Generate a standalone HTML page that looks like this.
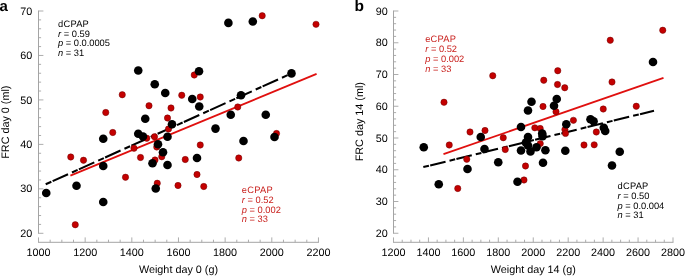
<!DOCTYPE html>
<html lang="en"><head><meta charset="utf-8"><title>FRC vs weight</title>
<style>html,body{margin:0;padding:0;background:#fff}body{width:685px;height:276px;overflow:hidden}svg{will-change:transform}svg text{white-space:pre;text-rendering:geometricPrecision}</style>
</head><body>
<svg width="685" height="276" viewBox="0 0 685 276" style="display:block;font-family:'Liberation Sans', Arial, Helvetica, sans-serif">
<rect width="685" height="276" fill="#fff"/>
<path d="M38.5 10.55V233.74999999999997M38.05 242.3H318.91" fill="none" stroke="#a4a4a4" stroke-width="1"/><path d="M38.50 242.3v-4.9M85.16 242.3v-4.9M131.82 242.3v-4.9M178.48 242.3v-4.9M225.14 242.3v-4.9M271.80 242.3v-4.9M318.46 242.3v-4.9M50.16 242.3v-2.6M61.83 242.3v-2.6M73.50 242.3v-2.6M96.83 242.3v-2.6M108.49 242.3v-2.6M120.16 242.3v-2.6M143.49 242.3v-2.6M155.15 242.3v-2.6M166.81 242.3v-2.6M190.15 242.3v-2.6M201.81 242.3v-2.6M213.47 242.3v-2.6M236.81 242.3v-2.6M248.47 242.3v-2.6M260.13 242.3v-2.6M283.47 242.3v-2.6M295.13 242.3v-2.6M306.80 242.3v-2.6M38.5 233.30h4.9M38.5 188.84h4.9M38.5 144.38h4.9M38.5 99.92h4.9M38.5 55.46h4.9M38.5 11.00h4.9M38.5 224.41h2.6M38.5 215.52h2.6M38.5 206.62h2.6M38.5 197.73h2.6M38.5 179.95h2.6M38.5 171.06h2.6M38.5 162.16h2.6M38.5 153.27h2.6M38.5 135.49h2.6M38.5 126.60h2.6M38.5 117.70h2.6M38.5 108.81h2.6M38.5 91.03h2.6M38.5 82.14h2.6M38.5 73.24h2.6M38.5 64.35h2.6M38.5 46.57h2.6M38.5 37.68h2.6M38.5 28.78h2.6M38.5 19.89h2.6" fill="none" stroke="#a4a4a4" stroke-width="0.9"/>
<g font-size="10.8" fill="#000">
<text x="38.50" y="255.6" text-anchor="middle">1000</text>
<text x="85.16" y="255.6" text-anchor="middle">1200</text>
<text x="131.82" y="255.6" text-anchor="middle">1400</text>
<text x="178.48" y="255.6" text-anchor="middle">1600</text>
<text x="225.14" y="255.6" text-anchor="middle">1800</text>
<text x="271.80" y="255.6" text-anchor="middle">2000</text>
<text x="318.46" y="255.6" text-anchor="middle">2200</text>
<text x="32.3" y="236.90" text-anchor="end">20</text>
<text x="32.3" y="192.44" text-anchor="end">30</text>
<text x="32.3" y="147.98" text-anchor="end">40</text>
<text x="32.3" y="103.52" text-anchor="end">50</text>
<text x="32.3" y="59.06" text-anchor="end">60</text>
<text x="32.3" y="14.60" text-anchor="end">70</text>
<text x="178.48" y="272.6" text-anchor="middle">Weight day 0 (g)</text>
<text transform="translate(9.2 122.15) rotate(-90)" text-anchor="middle">FRC day 0 (ml)</text>
</g>
<text x="-0.5" y="10.9" font-size="15" font-weight="bold" fill="#000">a</text>
<path d="M393.5 10.55V233.7M393.05 242.3H673.4540000000001" fill="none" stroke="#a4a4a4" stroke-width="1"/><path d="M393.50 242.3v-4.9M428.44 242.3v-4.9M463.38 242.3v-4.9M498.31 242.3v-4.9M533.25 242.3v-4.9M568.19 242.3v-4.9M603.13 242.3v-4.9M638.07 242.3v-4.9M673.00 242.3v-4.9M402.23 242.3v-2.6M410.97 242.3v-2.6M419.70 242.3v-2.6M437.17 242.3v-2.6M445.91 242.3v-2.6M454.64 242.3v-2.6M472.11 242.3v-2.6M480.85 242.3v-2.6M489.58 242.3v-2.6M507.05 242.3v-2.6M515.78 242.3v-2.6M524.52 242.3v-2.6M541.99 242.3v-2.6M550.72 242.3v-2.6M559.46 242.3v-2.6M576.92 242.3v-2.6M585.66 242.3v-2.6M594.39 242.3v-2.6M611.86 242.3v-2.6M620.60 242.3v-2.6M629.33 242.3v-2.6M646.80 242.3v-2.6M655.54 242.3v-2.6M664.27 242.3v-2.6M393.5 233.25h4.9M393.5 201.50h4.9M393.5 169.75h4.9M393.5 138.00h4.9M393.5 106.25h4.9M393.5 74.50h4.9M393.5 42.75h4.9M393.5 11.00h4.9M393.5 226.90h2.6M393.5 220.55h2.6M393.5 214.20h2.6M393.5 207.85h2.6M393.5 195.15h2.6M393.5 188.80h2.6M393.5 182.45h2.6M393.5 176.10h2.6M393.5 163.40h2.6M393.5 157.05h2.6M393.5 150.70h2.6M393.5 144.35h2.6M393.5 131.65h2.6M393.5 125.30h2.6M393.5 118.95h2.6M393.5 112.60h2.6M393.5 99.90h2.6M393.5 93.55h2.6M393.5 87.20h2.6M393.5 80.85h2.6M393.5 68.15h2.6M393.5 61.80h2.6M393.5 55.45h2.6M393.5 49.10h2.6M393.5 36.40h2.6M393.5 30.05h2.6M393.5 23.70h2.6M393.5 17.35h2.6" fill="none" stroke="#a4a4a4" stroke-width="0.9"/>
<g font-size="10.8" fill="#000">
<text x="393.50" y="255.6" text-anchor="middle">1200</text>
<text x="428.44" y="255.6" text-anchor="middle">1400</text>
<text x="463.38" y="255.6" text-anchor="middle">1600</text>
<text x="498.31" y="255.6" text-anchor="middle">1800</text>
<text x="533.25" y="255.6" text-anchor="middle">2000</text>
<text x="568.19" y="255.6" text-anchor="middle">2200</text>
<text x="603.13" y="255.6" text-anchor="middle">2400</text>
<text x="638.07" y="255.6" text-anchor="middle">2600</text>
<text x="673.00" y="255.6" text-anchor="middle">2800</text>
<text x="387.7" y="236.85" text-anchor="end">20</text>
<text x="387.7" y="205.10" text-anchor="end">30</text>
<text x="387.7" y="173.35" text-anchor="end">40</text>
<text x="387.7" y="141.60" text-anchor="end">50</text>
<text x="387.7" y="109.85" text-anchor="end">60</text>
<text x="387.7" y="78.10" text-anchor="end">70</text>
<text x="387.7" y="46.35" text-anchor="end">80</text>
<text x="387.7" y="14.60" text-anchor="end">90</text>
<text x="533.25" y="272.6" text-anchor="middle">Weight day 14 (g)</text>
<text transform="translate(363.3 121.72) rotate(-90)" text-anchor="middle">FRC day 14 (ml)</text>
</g>
<text x="354.4" y="11.3" font-size="15.5" font-weight="bold" fill="#000">b</text>
<line x1="70.4" y1="175.7" x2="316.6" y2="73.9" stroke="#e0100f" stroke-width="1.8"/>
<line x1="45.7" y1="184.3" x2="291.5" y2="73.4" stroke="#000" stroke-width="2.05" stroke-dasharray="6.2 1.4 16.9 4.3"/>
<line x1="443.5" y1="154.2" x2="663.5" y2="77.8" stroke="#e0100f" stroke-width="1.8"/>
<line x1="423.3" y1="167.1" x2="654" y2="110.75" stroke="#000" stroke-width="2.05" stroke-dasharray="5.8 1.3 15.8 4.1"/>
<g fill="#c40000" stroke="#6e0000" stroke-width="0.5">
<circle cx="70.75" cy="157" r="3.15"/>
<circle cx="75.25" cy="224.75" r="3.15"/>
<circle cx="83.5" cy="160.25" r="3.15"/>
<circle cx="105.75" cy="112.5" r="3.15"/>
<circle cx="112.75" cy="132.5" r="3.15"/>
<circle cx="122.25" cy="94.75" r="3.15"/>
<circle cx="125.5" cy="177.25" r="3.15"/>
<circle cx="134" cy="148.25" r="3.15"/>
<circle cx="140.5" cy="157.5" r="3.15"/>
<circle cx="146.75" cy="138.25" r="3.15"/>
<circle cx="149" cy="105.75" r="3.15"/>
<circle cx="154.5" cy="136.75" r="3.15"/>
<circle cx="155" cy="160" r="3.15"/>
<circle cx="156.75" cy="147" r="3.15"/>
<circle cx="157.25" cy="183.25" r="3.15"/>
<circle cx="161.75" cy="156.75" r="3.15"/>
<circle cx="167.5" cy="118" r="3.15"/>
<circle cx="168.5" cy="129" r="3.15"/>
<circle cx="171" cy="108" r="3.15"/>
<circle cx="178" cy="185.5" r="3.15"/>
<circle cx="181.75" cy="95.25" r="3.15"/>
<circle cx="185.25" cy="159.5" r="3.15"/>
<circle cx="194.25" cy="75" r="3.15"/>
<circle cx="197" cy="174.5" r="3.15"/>
<circle cx="200.25" cy="97" r="3.15"/>
<circle cx="200.25" cy="145" r="3.15"/>
<circle cx="203.75" cy="186.5" r="3.15"/>
<circle cx="237.75" cy="107" r="3.15"/>
<circle cx="238.75" cy="158" r="3.15"/>
<circle cx="262.2" cy="15.75" r="3.15"/>
<circle cx="276.5" cy="133.5" r="3.15"/>
<circle cx="316" cy="24.3" r="3.15"/>
<circle cx="444" cy="102.25" r="3.15"/>
<circle cx="449.25" cy="145" r="3.15"/>
<circle cx="457.75" cy="188.5" r="3.15"/>
<circle cx="466.75" cy="159.25" r="3.15"/>
<circle cx="470" cy="132" r="3.15"/>
<circle cx="485" cy="130.5" r="3.15"/>
<circle cx="492.75" cy="75.75" r="3.15"/>
<circle cx="503.25" cy="137.75" r="3.15"/>
<circle cx="505.25" cy="149.5" r="3.15"/>
<circle cx="524" cy="180" r="3.15"/>
<circle cx="525.5" cy="166" r="3.15"/>
<circle cx="534.8" cy="127.8" r="3.15"/>
<circle cx="540.2" cy="128.5" r="3.15"/>
<circle cx="540.25" cy="143.6" r="3.15"/>
<circle cx="543" cy="106.5" r="3.15"/>
<circle cx="543.75" cy="80.25" r="3.15"/>
<circle cx="556" cy="111.75" r="3.15"/>
<circle cx="557.5" cy="84.5" r="3.15"/>
<circle cx="557.75" cy="70.75" r="3.15"/>
<circle cx="564.75" cy="87.75" r="3.15"/>
<circle cx="564.9" cy="129.6" r="3.15"/>
<circle cx="565.5" cy="133.4" r="3.15"/>
<circle cx="573.4" cy="120.3" r="3.15"/>
<circle cx="584" cy="145" r="3.15"/>
<circle cx="594.2" cy="144.8" r="3.15"/>
<circle cx="596.3" cy="132" r="3.15"/>
<circle cx="603.25" cy="109" r="3.15"/>
<circle cx="610.25" cy="40.25" r="3.15"/>
<circle cx="612" cy="82" r="3.15"/>
<circle cx="636.25" cy="106.25" r="3.15"/>
<circle cx="662.75" cy="30.25" r="3.15"/>
</g><g fill="#000">
<circle cx="46.25" cy="193" r="4.3"/>
<circle cx="76.5" cy="185.75" r="4.3"/>
<circle cx="103.25" cy="202" r="4.3"/>
<circle cx="103.25" cy="138.75" r="4.3"/>
<circle cx="103.25" cy="166" r="4.3"/>
<circle cx="138.25" cy="70.5" r="4.3"/>
<circle cx="138.25" cy="133.75" r="4.3"/>
<circle cx="143" cy="136.5" r="4.3"/>
<circle cx="145.25" cy="118.75" r="4.3"/>
<circle cx="154.75" cy="84.25" r="4.3"/>
<circle cx="152.5" cy="163.25" r="4.3"/>
<circle cx="155.75" cy="188.5" r="4.3"/>
<circle cx="158" cy="144.25" r="4.3"/>
<circle cx="163" cy="152.25" r="4.3"/>
<circle cx="165.25" cy="93" r="4.3"/>
<circle cx="167.5" cy="136.75" r="4.3"/>
<circle cx="167.5" cy="165" r="4.3"/>
<circle cx="172" cy="124.25" r="4.3"/>
<circle cx="192.25" cy="99" r="4.3"/>
<circle cx="197" cy="158" r="4.3"/>
<circle cx="199" cy="71.25" r="4.3"/>
<circle cx="199.25" cy="106.5" r="4.3"/>
<circle cx="215.5" cy="128.6" r="4.3"/>
<circle cx="228.4" cy="22.9" r="4.3"/>
<circle cx="230.75" cy="114.75" r="4.3"/>
<circle cx="241" cy="95.25" r="4.3"/>
<circle cx="243.5" cy="141" r="4.3"/>
<circle cx="252.8" cy="21.5" r="4.3"/>
<circle cx="265.75" cy="114.75" r="4.3"/>
<circle cx="274.5" cy="137" r="4.3"/>
<circle cx="291.5" cy="73.4" r="4.3"/>
<circle cx="423.75" cy="147.25" r="4.3"/>
<circle cx="438.75" cy="184.25" r="4.3"/>
<circle cx="467.5" cy="169" r="4.3"/>
<circle cx="480.75" cy="137" r="4.3"/>
<circle cx="484.5" cy="149" r="4.3"/>
<circle cx="498.25" cy="162.25" r="4.3"/>
<circle cx="517.5" cy="181.75" r="4.3"/>
<circle cx="521" cy="127" r="4.3"/>
<circle cx="521" cy="150.5" r="4.3"/>
<circle cx="525.9" cy="142.6" r="4.3"/>
<circle cx="528" cy="110.5" r="4.3"/>
<circle cx="528" cy="137" r="4.3"/>
<circle cx="528" cy="145.5" r="4.3"/>
<circle cx="530.5" cy="151.5" r="4.3"/>
<circle cx="531.5" cy="101.75" r="4.3"/>
<circle cx="536.5" cy="147.25" r="4.3"/>
<circle cx="542.2" cy="133.5" r="4.3"/>
<circle cx="542.6" cy="136.3" r="4.3"/>
<circle cx="543" cy="162.75" r="4.3"/>
<circle cx="545.4" cy="150.3" r="4.3"/>
<circle cx="554" cy="105.75" r="4.3"/>
<circle cx="556.75" cy="99" r="4.3"/>
<circle cx="565.3" cy="150.8" r="4.3"/>
<circle cx="566.3" cy="124.2" r="4.3"/>
<circle cx="590.5" cy="119.2" r="4.3"/>
<circle cx="593.6" cy="121.2" r="4.3"/>
<circle cx="603.8" cy="127.8" r="4.3"/>
<circle cx="605.2" cy="131" r="4.3"/>
<circle cx="612" cy="165.5" r="4.3"/>
<circle cx="619.75" cy="151.75" r="4.3"/>
<circle cx="653" cy="62" r="4.3"/>
</g>
<g font-size="9.3" fill="#000"><text x="58" y="26.60" letter-spacing="0.25">dCPAP</text><text x="58" y="36.50"><tspan font-style="italic">r</tspan> = 0.59</text><text x="58" y="46.40"><tspan font-style="italic">p</tspan> = 0.0.0005</text><text x="58" y="56.30"><tspan font-style="italic">n</tspan> = 31</text></g>
<g font-size="9.3" fill="#c9211e"><text x="241.8" y="192.90" letter-spacing="0.25">eCPAP</text><text x="241.8" y="202.72"><tspan font-style="italic">r</tspan> = 0.52</text><text x="241.8" y="212.54"><tspan font-style="italic">p</tspan> = 0.002</text><text x="241.8" y="222.36"><tspan font-style="italic">n</tspan> = 33</text></g>
<g font-size="9.3" fill="#c9211e"><text x="425.2" y="41.60" letter-spacing="0.25">eCPAP</text><text x="425.2" y="51.70"><tspan font-style="italic">r</tspan> = 0.52</text><text x="425.2" y="61.80"><tspan font-style="italic">p</tspan> = 0.002</text><text x="425.2" y="71.90"><tspan font-style="italic">n</tspan> = 33</text></g>
<g font-size="9.3" fill="#000"><text x="617.5" y="188.80" letter-spacing="0.25">dCPAP</text><text x="617.5" y="198.65"><tspan font-style="italic">r</tspan> = 0.50</text><text x="617.5" y="208.50"><tspan font-style="italic">p</tspan> = 0.0.004</text><text x="617.5" y="218.35"><tspan font-style="italic">n</tspan> = 31</text></g>
</svg>
</body></html>
